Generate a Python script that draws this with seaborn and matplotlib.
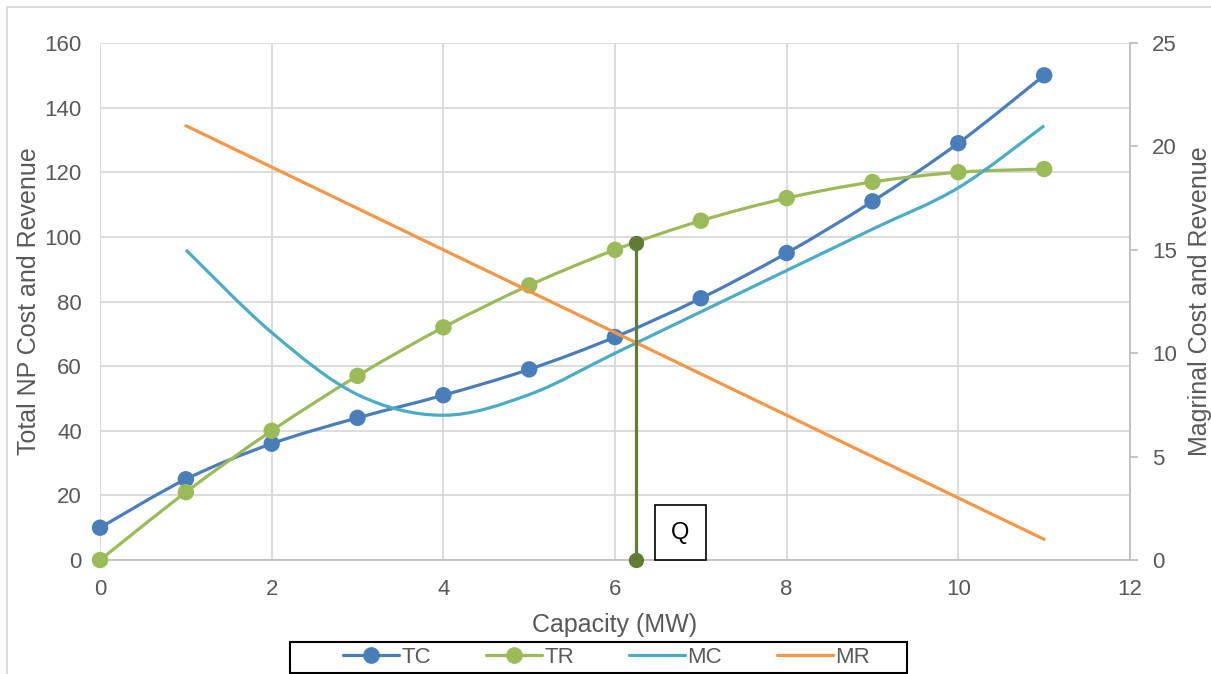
import matplotlib
matplotlib.use("Agg")
import matplotlib.pyplot as plt
from matplotlib.path import Path
from matplotlib.patches import PathPatch, Rectangle
from matplotlib.lines import Line2D
import numpy as np
import pandas as pd
import seaborn as sns

# values
CAPACITY = [0, 1, 2, 3, 4, 5, 6, 7, 8, 9, 10, 11]
TC = [10, 25, 36, 44, 51, 59, 69, 81, 95, 111, 129, 150]
TR = [0, 21, 40, 57, 72, 85, 96, 105, 112, 117, 120, 121]
MARGINAL_X = [1, 2, 3, 4, 5, 6, 7, 8, 9, 10, 11]
MC = [15, 11, 8, 7, 8, 10, 12, 14, 16, 18, 21]
MR = [21, 19, 17, 15, 13, 11, 9, 7, 5, 3, 1]
Q_X = 6.25
Q_Y = [0, 98]

C_TC = "#4A7EBB"
C_TR = "#9BBB59"
C_MC = "#4BACC6"
C_MR = "#F79646"
C_Q = "#617D35"

sns.set_style("white")
plt.rcParams["font.family"] = ["Liberation Sans", "DejaVu Sans"]
TXT = "#595959"


def smooth_path(xs, ys):
    # Excel-style smoothed line as cubic bezier segments
    pts = np.column_stack([xs, ys]).astype(float)
    n = len(pts)
    verts = [pts[0]]
    codes = [Path.MOVETO]
    for i in range(n - 1):
        p0 = pts[i - 1] if i > 0 else pts[i]
        p1, p2 = pts[i], pts[i + 1]
        p3 = pts[i + 2] if i + 2 < n else pts[i + 1]
        verts += [p1 + (p2 - p0) / 6, p2 - (p3 - p1) / 6, p2]
        codes += [Path.CURVE4] * 3
    return Path(verts, codes)


fig = plt.figure(figsize=(12.11, 6.74), dpi=100)
ax = fig.add_axes([0.0826, 0.1691, 0.8505, 0.7671])
ax2 = ax.twinx()

df = pd.DataFrame({"x": CAPACITY, "TC": TC, "TR": TR})
dm = pd.DataFrame({"x": MARGINAL_X, "MC": MC, "MR": MR})

ax.add_patch(PathPatch(smooth_path(df.x, df.TC), fill=False, ec=C_TC, lw=2.3, zorder=3))
ax.add_patch(PathPatch(smooth_path(df.x, df.TR), fill=False, ec=C_TR, lw=2.3, zorder=3))
sns.scatterplot(data=df, x="x", y="TC", ax=ax, color=C_TC, s=140, edgecolor="none", zorder=4, clip_on=False)
sns.scatterplot(data=df, x="x", y="TR", ax=ax, color=C_TR, s=140, edgecolor="none", zorder=4, clip_on=False)

ax2.add_patch(PathPatch(smooth_path(dm.x, dm.MC), fill=False, ec=C_MC, lw=2.3, zorder=3))
sns.lineplot(data=dm, x="x", y="MR", ax=ax2, color=C_MR, lw=2.3, zorder=3)

# Q marker line (left-axis units)
ax2.plot([Q_X, Q_X], Q_Y, color=C_Q, lw=2.3, marker="o", ms=10,
         transform=ax.transData, zorder=5, clip_on=False)
ax.text(6.76, 8.4, "Q", fontsize=17, ha="center", va="center", color="black", zorder=6,
        bbox=dict(boxstyle="square,pad=0.7", fc="white", ec="black", lw=1.2))

ax.set_xlim(0, 12)
ax.set_ylim(0, 160)
ax2.set_ylim(0, 25)
ax.set_xticks(range(0, 13, 2))
ax.set_yticks(range(0, 161, 20))
ax2.set_yticks(range(0, 26, 5))

ax.grid(True, color="#D9D9D9", lw=1.3)
ax.set_axisbelow(True)
for s in ["top", "right", "left"]:
    ax.spines[s].set_visible(False)
for s in ["top", "left", "bottom"]:
    ax2.spines[s].set_visible(False)
ax.spines["bottom"].set_color("#BFBFBF")
ax.spines["bottom"].set_linewidth(1.3)
ax2.spines["right"].set_visible(True)
ax2.spines["right"].set_color("#BFBFBF")
ax2.spines["right"].set_linewidth(1.3)

ax.tick_params(axis="x", length=0, pad=14, labelsize=16, labelcolor=TXT)
ax.tick_params(axis="y", length=0, pad=13, labelsize=16, labelcolor=TXT)
ax2.tick_params(axis="y", right=True, length=6, width=1.3, color="#BFBFBF", direction="out",
                pad=10, labelsize=16, labelcolor=TXT)

ax.set_xlabel("Capacity (MW)", fontsize=18, color=TXT, labelpad=9)
ax.set_ylabel("Total NP Cost and Revenue", fontsize=18, color=TXT, labelpad=3)
ax2.set_ylabel("Magrinal Cost and Revenue", fontsize=18, color=TXT, labelpad=8)

handles = [
    Line2D([], [], color=C_TC, lw=2.3, marker="o", ms=11),
    Line2D([], [], color=C_TR, lw=2.3, marker="o", ms=11),
    Line2D([], [], color=C_MC, lw=2.3),
    Line2D([], [], color=C_MR, lw=2.3),
]
leg = fig.legend(handles, ["TC", "TR", "MC", "MR"], loc="center", bbox_to_anchor=(0.501, 0.0245),
                 ncol=4, frameon=False, fontsize=16, handlelength=2.5,
                 columnspacing=2.5, handletextpad=0.1, borderpad=0.15, borderaxespad=0,
                 labelcolor=TXT)
# legend box, wider than its entries as in the reference
fig.add_artist(Rectangle((290 / 1211, 1 - 673 / 674), 617 / 1211, 31 / 674,
                         transform=fig.transFigure, fill=False, ec="black", lw=1.5))

# light chart-area border
fig.add_artist(Line2D([0.006, 0.006], [0, 0.99], transform=fig.transFigure, color="#D9D9D9", lw=1.3))
fig.add_artist(Line2D([0.006, 1], [0.99, 0.99], transform=fig.transFigure, color="#D9D9D9", lw=1.3))

fig.savefig("out.png", dpi=100)
